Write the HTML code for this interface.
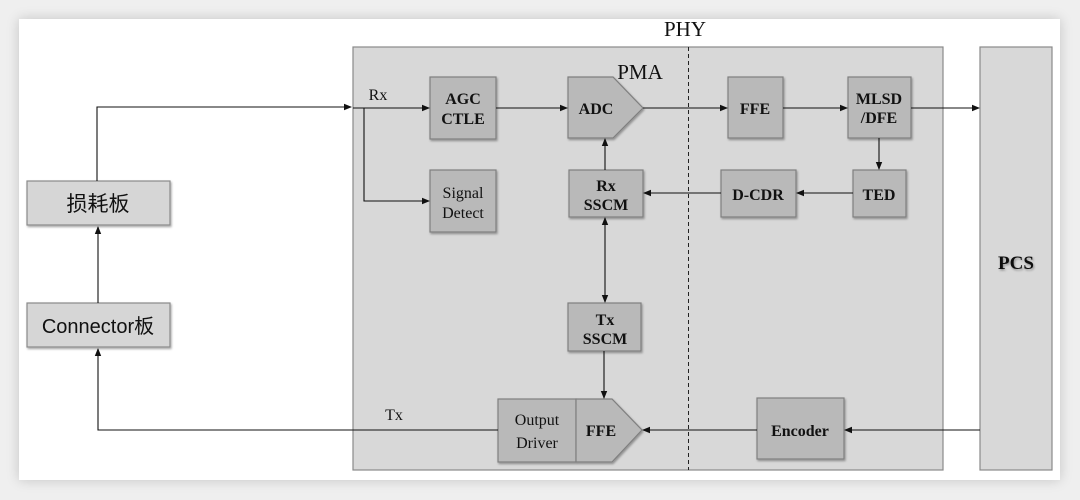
<!DOCTYPE html>
<html><head><meta charset="utf-8"><style>
html,body{margin:0;padding:0;background:#efefef;width:1080px;height:500px;overflow:hidden}
.card{position:absolute;left:19px;top:19px;width:1041px;height:461px;background:#fff;box-shadow:0 0 12px rgba(0,0,0,0.18)}
svg{position:absolute;left:0;top:0}
text{font-family:"Liberation Serif",serif;fill:#111}
</style></head><body>
<div class="card"></div>
<svg width="1080" height="500" viewBox="0 0 1080 500">
<defs>
<marker id="a" markerWidth="8" markerHeight="8" refX="7" refY="4" orient="auto" markerUnits="userSpaceOnUse"><path d="M0,0.8 L8,4 L0,7.2 z" fill="#111"/></marker>
<filter id="s" x="-10%" y="-10%" width="130%" height="130%"><feDropShadow dx="1" dy="1.5" stdDeviation="1" flood-opacity="0.35"/></filter>
</defs>
<rect x="353" y="47" width="590" height="423" fill="#d8d8d8" stroke="#8a8a8a" stroke-width="1.2"/>
<rect x="980" y="47" width="72" height="423" fill="#d8d8d8" stroke="#8a8a8a" stroke-width="1.2"/>
<line x1="688.5" y1="47" x2="688.5" y2="470" stroke="#222" stroke-dasharray="4,3"/>
<text x="685" y="36" font-size="21" text-anchor="middle">PHY</text>
<text x="640" y="79" font-size="21" text-anchor="middle">PMA</text>
<text x="1016" y="269" font-size="19" text-anchor="middle" font-weight="bold" filter="url(#s)">PCS</text>
<g fill="#d6d6d6" stroke="#8a8a8a" stroke-width="1.2" filter="url(#s)">
<rect x="27" y="181" width="143" height="44"/>
<rect x="27" y="303" width="143" height="44"/>
</g>
<text x="98" y="211" font-size="21" text-anchor="middle" style="font-family:'Liberation Sans','Noto Sans CJK SC',sans-serif">损耗板</text>
<text x="98" y="333" font-size="20" text-anchor="middle" style="font-family:'Liberation Sans','Noto Sans CJK SC',sans-serif">Connector板</text>
<g fill="#b9b9b9" stroke="#7f7f7f" stroke-width="1.2" filter="url(#s)">
<rect x="430" y="77" width="66" height="62"/>
<rect x="430" y="170" width="66" height="62"/>
<path d="M568,77 L613,77 L643,108 L613,138 L568,138 z"/>
<rect x="569" y="170" width="74" height="47"/>
<rect x="568" y="303" width="73" height="48"/>
<rect x="728" y="77" width="55" height="61"/>
<rect x="848" y="77" width="63" height="61"/>
<rect x="853" y="170" width="53" height="47"/>
<rect x="721" y="170" width="75" height="47"/>
<rect x="757" y="398" width="87" height="61"/>
<rect x="498" y="399" width="78" height="63"/>
<path d="M576,399 L612,399 L642,430 L612,462 L576,462 z"/>
</g>
<g font-size="16" text-anchor="middle" font-weight="bold">
<text x="463" y="104">AGC</text><text x="463" y="124">CTLE</text>
<text x="463" y="198" font-weight="normal">Signal</text><text x="463" y="218" font-weight="normal">Detect</text>
<text x="596" y="114">ADC</text>
<text x="606" y="191">Rx</text><text x="606" y="210">SSCM</text>
<text x="605" y="325">Tx</text><text x="605" y="344">SSCM</text>
<text x="755" y="114">FFE</text>
<text x="879" y="104">MLSD</text><text x="879" y="123">/DFE</text>
<text x="879" y="200">TED</text>
<text x="758" y="200">D-CDR</text>
<text x="800" y="436">Encoder</text>
<text x="537" y="425" font-weight="normal">Output</text><text x="537" y="448" font-weight="normal">Driver</text>
<text x="601" y="436">FFE</text>
</g>
<text x="378" y="100" font-size="16" text-anchor="middle">Rx</text>
<text x="394" y="420" font-size="16" text-anchor="middle">Tx</text>
<g stroke="#111" stroke-width="1.1" fill="none">
<path d="M97,181 L97,107 L351,107" marker-end="url(#a)"/>
<line x1="98" y1="303" x2="98" y2="227" marker-end="url(#a)"/>
<path d="M353,430 L98,430 L98,349" marker-end="url(#a)"/>
<line x1="353" y1="430" x2="498" y2="430"/>
<line x1="353" y1="108" x2="429" y2="108" marker-end="url(#a)"/>
<path d="M364,108 L364,201 L429,201" marker-end="url(#a)"/>
<line x1="496" y1="108" x2="567" y2="108" marker-end="url(#a)"/>
<line x1="643" y1="108" x2="727" y2="108" marker-end="url(#a)"/>
<line x1="783" y1="108" x2="847" y2="108" marker-end="url(#a)"/>
<line x1="911" y1="108" x2="979" y2="108" marker-end="url(#a)"/>
<line x1="879" y1="138" x2="879" y2="169" marker-end="url(#a)"/>
<line x1="853" y1="193" x2="797" y2="193" marker-end="url(#a)"/>
<line x1="721" y1="193" x2="644" y2="193" marker-end="url(#a)"/>
<line x1="605" y1="170" x2="605" y2="139" marker-end="url(#a)"/>
<line x1="605" y1="260" x2="605" y2="218" marker-end="url(#a)"/>
<line x1="605" y1="260" x2="605" y2="302" marker-end="url(#a)"/>
<line x1="604" y1="351" x2="604" y2="398" marker-end="url(#a)"/>
<line x1="757" y1="430" x2="643" y2="430" marker-end="url(#a)"/>
<line x1="980" y1="430" x2="845" y2="430" marker-end="url(#a)"/>
</g>
</svg>
</body></html>
